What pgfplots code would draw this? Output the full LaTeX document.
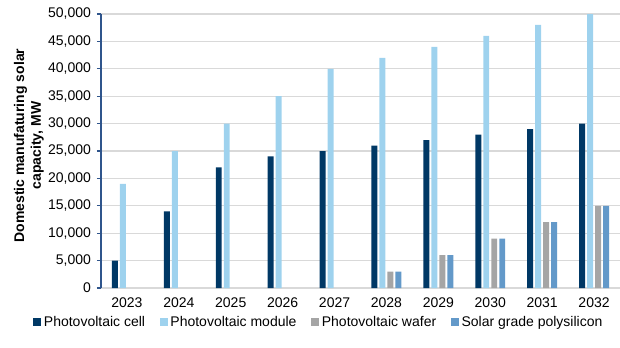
\documentclass[border=0pt]{standalone}
\usepackage{pgfplots}
\pgfplotsset{compat=1.18}
\usepackage{fontspec}
\setmainfont{Liberation Sans}
\definecolor{cCell}{RGB}{0,56,101}
\definecolor{cModule}{RGB}{158,210,238}
\definecolor{cWafer}{RGB}{165,165,165}
\definecolor{cPoly}{RGB}{99,153,201}
\definecolor{cAxis}{RGB}{47,85,140}
\definecolor{cGrid}{RGB}{217,217,217}
\begin{document}
\begin{tikzpicture}[font=\fontsize{10.5}{12.6}\selectfont]
\begin{axis}[
  scale only axis,
  width=389.25pt, height=205.5pt,
  xmin=-0.5, xmax=9.5,
  ymin=0, ymax=50000,
  ytick={0,5000,...,50000},
  xtick={0,...,9},
  xticklabels={2023,2024,2025,2026,2027,2028,2029,2030,2031,2032},
  scaled y ticks=false,
  /pgf/number format/.cd, 1000 sep={,}, assume math mode=true, /pgfplots/.cd,
  axis x line=bottom, axis y line=left,
  axis line style={-},
  x axis line style={draw=cGrid, line width=0.8pt},
  y axis line style={draw=cAxis, line width=0.8pt},
  ymajorgrids, major grid style={draw=cGrid, line width=0.8pt},
  x tick style={draw=none},
  y tick style={draw=cAxis, line width=0.8pt},
  tick align=outside, major tick length=3pt,
  yticklabel style={xshift=-1pt},
  xticklabel style={yshift=-1pt},
  tick label style={font=\fontsize{10.5}{12.6}\selectfont},
  ylabel={\begin{tabular}{@{}c@{}}\bfseries Domestic manufaturing solar\\\bfseries capacity, MW\end{tabular}},
  every axis y label/.style={at={(axis description cs:-0.1385,0.52)}, rotate=90, anchor=center, font=\fontsize{10.5}{12.6}\selectfont},
  ybar, bar width=0.115,
  legend columns=4,
  legend style={at={(axis description cs:-0.131,-0.124)}, anchor=west, draw=none, fill=none,
    font=\fontsize{10.5}{12.6}\selectfont, inner sep=0pt,
    /tikz/every even column/.append style={column sep=9pt}},
  legend image code/.code={\fill[#1] (0pt,-3pt) rectangle (6pt,3pt);},
]
\addplot[fill=cCell, draw=none, bar shift=-0.231] coordinates {(0,5000) (1,14000) (2,22000) (3,24000) (4,25000) (5,26000) (6,27000) (7,28000) (8,29000) (9,30000)};
\addplot[fill=cModule, draw=none, bar shift=-0.077] coordinates {(0,19000) (1,25000) (2,30000) (3,35000) (4,40000) (5,42000) (6,44000) (7,46000) (8,48000) (9,50000)};
\addplot[fill=cWafer, draw=none, bar shift=0.077] coordinates {(5,3000) (6,6000) (7,9000) (8,12000) (9,15000)};
\addplot[fill=cPoly, draw=none, bar shift=0.231] coordinates {(5,3000) (6,6000) (7,9000) (8,12000) (9,15000)};
\legend{Photovoltaic cell, Photovoltaic module, Photovoltaic wafer, Solar grade polysilicon}
\end{axis}
\pgfresetboundingbox
\useasboundingbox (-75.75pt,-44.25pt) rectangle (389.25pt,216pt);
\end{tikzpicture}
\end{document}
